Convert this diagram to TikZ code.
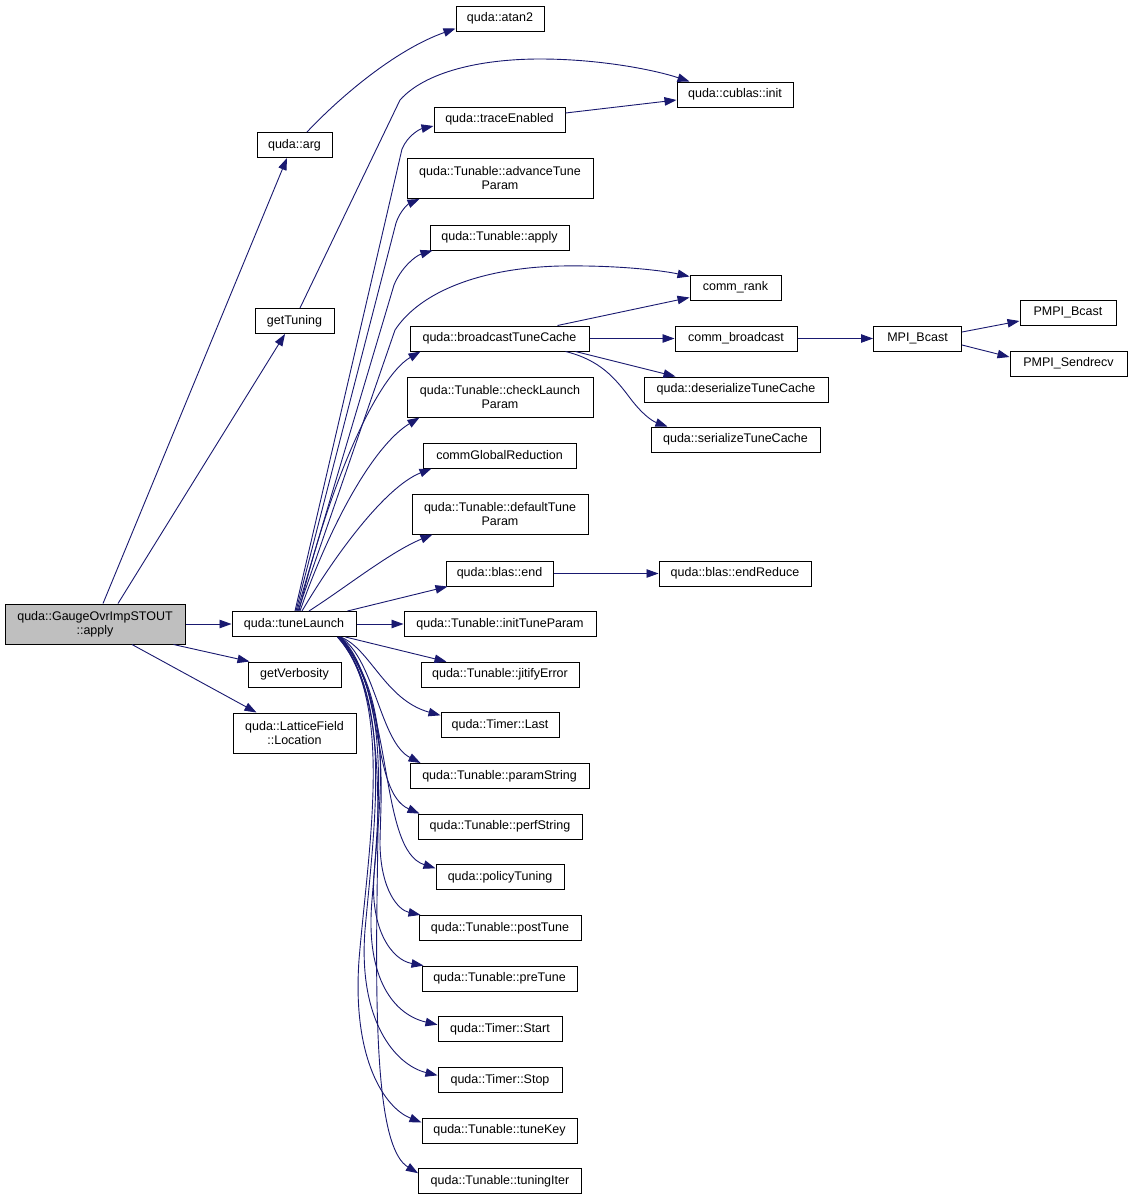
\documentclass[tikz,border=0pt]{standalone}
\usepackage{fontspec}
\setmainfont{Liberation Sans}
\usetikzlibrary{arrows.meta}
\definecolor{edgeblue}{HTML}{191970}
\definecolor{maingray}{HTML}{BFBFBF}
\begin{document}
\begin{tikzpicture}[x=1pt,y=-1pt,
  box/.style={draw=black, line width=1pt, inner sep=0pt, align=center,
    font=\fontsize{12.5}{14}\selectfont, minimum height=25pt},
  dbox/.style={box, minimum height=40pt},
  edge/.style={draw=edgeblue, line width=0.9pt, -{Triangle[length=12pt,width=8.5pt]}}]
\useasboundingbox[fill=white] (0,0) rectangle (1131,1200);

% nodes
\node[dbox, fill=maingray, minimum width=180pt] (main) at (95,624) {quda::GaugeOvrImpSTOUT\\::apply};
\node[box, minimum width=124pt] (tl) at (294,624) {quda::tuneLaunch};
\node[box, minimum width=93pt] (gv) at (294.5,674.5) {getVerbosity};
\node[dbox, minimum width=123pt] (loc) at (294.5,733) {quda::LatticeField\\::Location};
\node[box, minimum width=75pt] (arg) at (294.5,145) {quda::arg};
\node[box, minimum width=79pt] (gt) at (294.5,321) {getTuning};
\node[box, minimum width=88pt] (atan) at (500,18.5) {quda::atan2};
\node[box, minimum width=116pt] (cub) at (735,94.5) {quda::cublas::init};
\node[box, minimum width=131pt] (te) at (499.5,119.5) {quda::traceEnabled};
\node[dbox, minimum width=186pt] (adv) at (500,178.5) {quda::Tunable::advanceTune\\Param};
\node[box, minimum width=139pt] (ap) at (499.5,237.5) {quda::Tunable::apply};
\node[box, minimum width=91pt] (cr) at (735.5,287.5) {comm\_rank};
\node[box, minimum width=179pt] (bc) at (499.5,338.5) {quda::broadcastTuneCache};
\node[box, minimum width=122pt] (cb) at (736,338.5) {comm\_broadcast};
\node[box, minimum width=88pt] (mpi) at (917.5,338.5) {MPI\_Bcast};
\node[box, minimum width=96pt] (pb) at (1068,312.5) {PMPI\_Bcast};
\node[box, minimum width=117pt] (psr) at (1068.5,363.5) {PMPI\_Sendrecv};
\node[box, minimum width=184pt] (ds) at (736,389.5) {quda::deserializeTuneCache};
\node[box, minimum width=169pt] (ser) at (735.5,439.5) {quda::serializeTuneCache};
\node[dbox, minimum width=186pt] (ck) at (500,397) {quda::Tunable::checkLaunch\\Param};
\node[box, minimum width=153pt] (cg) at (499.5,455.5) {commGlobalReduction};
\node[dbox, minimum width=176pt] (dt) at (500,514) {quda::Tunable::defaultTune\\Param};
\node[box, minimum width=107pt] (be) at (499.5,573.5) {quda::blas::end};
\node[box, minimum width=152pt] (er) at (735,573.5) {quda::blas::endReduce};
\node[box, minimum width=192pt] (it) at (500,624) {quda::Tunable::initTuneParam};
\node[box, minimum width=158pt] (je) at (500,674.65) {quda::Tunable::jitifyError};
\node[box, minimum width=118pt] (la) at (500,725.3) {quda::Timer::Last};
\node[box, minimum width=179pt] (ps) at (499.5,775.95) {quda::Tunable::paramString};
\node[box, minimum width=164pt] (pf) at (500,826.6) {quda::Tunable::perfString};
\node[box, minimum width=128pt] (po) at (500,877.25) {quda::policyTuning};
\node[box, minimum width=162pt] (pt) at (500,927.9) {quda::Tunable::postTune};
\node[box, minimum width=155pt] (pr) at (499.5,978.55) {quda::Tunable::preTune};
\node[box, minimum width=124pt] (st) at (500,1029.2) {quda::Timer::Start};
\node[box, minimum width=124pt] (sp) at (500,1079.85) {quda::Timer::Stop};
\node[box, minimum width=155pt] (tk) at (499.5,1130.5) {quda::Tunable::tuneKey};
\node[box, minimum width=163pt] (ti) at (500,1181.15) {quda::Tunable::tuningIter};

% edges from main
\draw[edge] ([xshift=8pt]main.north) -- ([xshift=-7.5pt]arg.south);
\draw[edge] ([xshift=23pt]main.north) -- ([xshift=-9.5pt]gt.south);
\draw[edge] (main.east) -- (tl.west);
\draw[edge] ([xshift=-12pt]main.south east) -- ([xshift=2pt]gv.north west);
\draw[edge] ([xshift=37pt]main.south) -- ([xshift=24pt]loc.north west);

% arg, getTuning
\draw[edge] ([xshift=12.5pt]arg.north) .. controls (340,97) and (395,50) .. ([yshift=-10pt]atan.west);
\draw[edge] ([xshift=5.5pt]gt.north) -- (400,100) .. controls (425,72) and (480,59) .. (540,59)
   .. controls (600,59) and (655,70) .. ([xshift=13pt]cub.north west);

% tuneLaunch upward
\draw[edge] ([xshift=1pt]tl.north) -- (402,149) .. controls (408,135) and (420,129) .. ([yshift=-6.5pt]te.west);
\draw[edge] ([yshift=6.5pt]te.east) -- ([yshift=-5.5pt]cub.west);
\draw[edge] ([xshift=2pt]tl.north) -- (396,223) .. controls (400,211) and (408,204) .. ([xshift=13pt]adv.south west);
\draw[edge] ([xshift=3pt]tl.north) -- (394,285) .. controls (401,268) and (415,256) .. ([xshift=3pt]ap.south west);
\draw[edge] ([xshift=4pt]tl.north) -- (395,330) .. controls (420,292) and (480,268) .. (560,266)
   .. controls (620,265) and (665,271) .. ([yshift=-2pt]cr.north west);
\draw[edge] ([xshift=5pt]tl.north) .. controls (330,480) and (378,376) .. ([xshift=11pt]bc.south west);
\draw[edge] ([xshift=6pt]tl.north) .. controls (330,525) and (373,446) .. ([xshift=13pt]ck.south west);
\draw[edge] ([xshift=8pt]tl.north) .. controls (335,555) and (385,487) .. ([xshift=9pt]cg.south west);
\draw[edge] ([xshift=15pt]tl.north) .. controls (345,588) and (390,552) .. ([xshift=21pt]dt.south west);
\draw[edge] ([xshift=-9pt]tl.north east) -- ([xshift=2pt]be.south west);
\draw[edge] (be.east) -- (er.west);
\draw[edge] (tl.east) -- (it.west);

% broadcastTuneCache
\draw[edge] ([xshift=-32pt]bc.north east) -- ([yshift=-10pt]cr.west);
\draw[edge] (bc.east) -- (cb.west);
\draw[edge] ([xshift=-14pt]bc.south east) -- ([xshift=32pt]ds.north west);
\draw[edge] ([xshift=-24pt]bc.south east) .. controls (600,360) and (615,378) .. (630,398)
   .. controls (642,414) and (652,421) .. ([xshift=17pt]ser.north west);
\draw[edge] (cb.east) -- (mpi.west);
\draw[edge] ([yshift=6.5pt]mpi.east) -- ([yshift=-8.5pt]pb.west);
\draw[edge] ([yshift=-6.5pt]mpi.east) -- ([yshift=6.5pt]psr.west);

% tuneLaunch downward
\draw[edge] ([xshift=-11pt]tl.south east) -- ([xshift=26pt]je.north west);
\draw[edge] ([xshift=-16pt]tl.south east) .. controls (370,648) and (385,700) .. ([yshift=-3pt]la.north west);
\draw[edge] ([xshift=-16pt]tl.south east) .. controls (375,660) and (380,742) .. ([xshift=11pt]ps.north west);
\draw[edge] ([xshift=-16pt]tl.south east) .. controls (385,680) and (370,792) .. ([xshift=2pt]pf.north west);
\draw[edge] ([xshift=-16pt]tl.south east) .. controls (395,700) and (378,850) .. ([yshift=-4pt]po.north west);
\draw[edge] ([xshift=-17pt]tl.south east) .. controls (392,700) and (380,800) .. (380,845)
   .. controls (381,890) and (398,910) .. ([xshift=2pt]pt.north west);
\draw[edge] ([xshift=-17pt]tl.south east) .. controls (395,700) and (380,800) .. (374,875)
   .. controls (370,930) and (392,960) .. ([xshift=2pt]pr.north west);
\draw[edge] ([xshift=-18pt]tl.south east) .. controls (390,690) and (380,800) .. (372,900)
   .. controls (365,980) and (395,1015) .. ([yshift=4.5pt]st.west);
\draw[edge] ([xshift=-18pt]tl.south east) .. controls (392,700) and (375,820) .. (365,930)
   .. controls (358,1020) and (395,1065) .. ([yshift=4.5pt]sp.west);
\draw[edge] ([xshift=-19pt]tl.south east) .. controls (395,700) and (368,850) .. (359,960)
   .. controls (352,1060) and (385,1108) .. ([yshift=-5pt]tk.north west);
\draw[edge] ([xshift=-19pt]tl.south east) .. controls (385,690) and (378,800) .. (377,900)
   .. controls (375,1050) and (380,1150) .. ([yshift=-5pt]ti.north west);
\end{tikzpicture}
\end{document}
